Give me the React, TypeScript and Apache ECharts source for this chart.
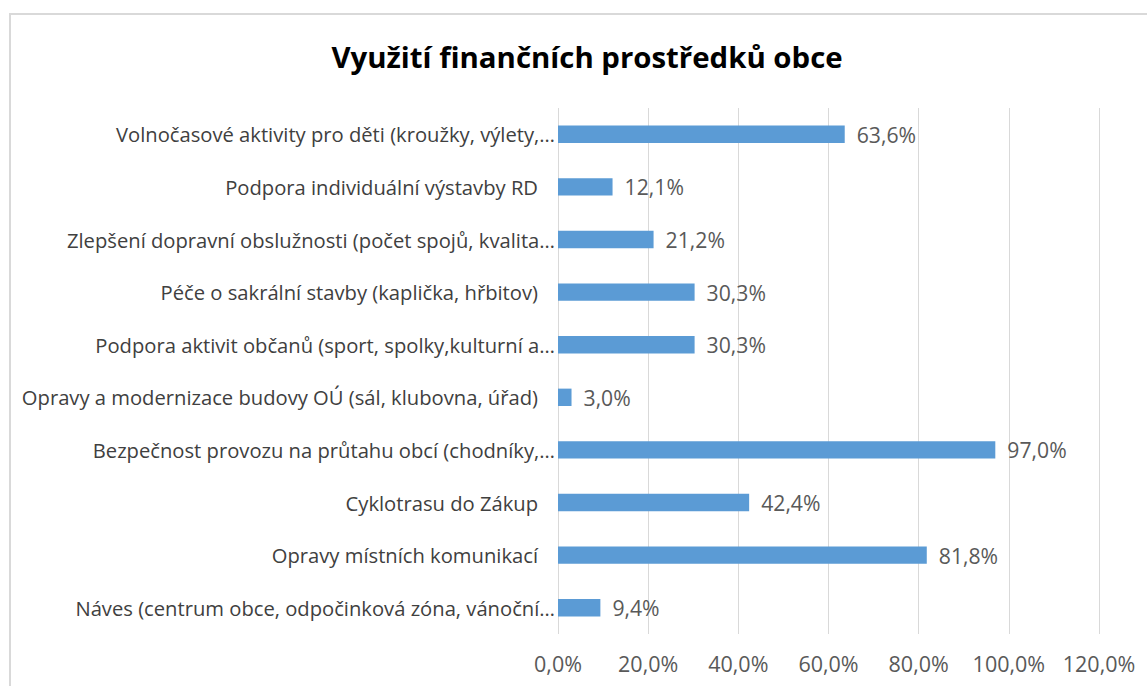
import React, { useEffect, useRef } from "react";
import * as echarts from "echarts";

const categories: string[] = [
  "Volnočasové aktivity pro děti (kroužky, výlety,…",
  "Podpora individuální výstavby RD",
  "Zlepšení dopravní obslužnosti (počet spojů, kvalita…",
  "Péče o sakrální stavby (kaplička, hřbitov)",
  "Podpora aktivit občanů (sport, spolky,kulturní a…",
  "Opravy a modernizace budovy OÚ (sál, klubovna, úřad)",
  "Bezpečnost provozu na průtahu obcí (chodníky,…",
  "Cyklotrasu do Zákup",
  "Opravy místních komunikací",
  "Náves (centrum obce, odpočinková zóna, vánoční…",
];

const values: number[] = [63.6, 12.1, 21.2, 30.3, 30.3, 3.0, 97.0, 42.4, 81.8, 9.4];

const xTicks = { min: 0, max: 120, interval: 20 };

const title = "Využití finančních prostředků obce";

const fmt = (v: number) => v.toFixed(1).replace(".", ",") + "%";

export default function App() {
  const ref = useRef<HTMLDivElement>(null);
  useEffect(() => {
    if (!ref.current) return;
    const chart = echarts.init(ref.current, null, { renderer: "svg" });
    const font = "'Open Sans', 'Noto Sans', sans-serif";
    chart.setOption({
      animation: false,
      backgroundColor: "#ffffff",
      graphic: [
        {
          type: "rect",
          shape: { x: 10, y: 14, width: 1300, height: 900 },
          style: { fill: "none", stroke: "#d9d9d9", lineWidth: 2 },
          silent: true,
        },
        {
          type: "text",
          x: 587,
          y: 57,
          style: {
            text: title,
            font: `bold 29.4px ${font}`,
            fill: "#000000",
            textAlign: "center",
            textVerticalAlign: "middle",
          },
        },
      ],
      grid: { left: 558, right: 48, top: 108, bottom: 52, containLabel: false },
      xAxis: {
        type: "value",
        min: xTicks.min,
        max: xTicks.max,
        interval: xTicks.interval,
        axisLine: { show: false },
        axisTick: { show: false },
        splitLine: { show: true, lineStyle: { color: "#d9d9d9", width: 1 } },
        axisLabel: {
          formatter: (v: number) => fmt(v),
          color: "#595959",
          fontFamily: font,
          fontSize: 21.5,
          margin: 18,
        },
      },
      yAxis: {
        type: "category",
        inverse: true,
        data: categories,
        axisLine: { show: false },
        axisTick: { show: false },
        axisLabel: {
          margin: 3,
          color: "#404040",
          fontFamily: font,
          fontSize: 20.2,
          formatter: (v: string) => (v.endsWith("…") ? `{t|${v}}` : `{n|${v}}`),
          rich: {
            t: { color: "#404040", fontFamily: font, fontSize: 20.2 },
            n: { color: "#404040", fontFamily: font, fontSize: 20.2, padding: [0, 17, 0, 0] },
          },
        },
      },
      series: [
        {
          type: "bar",
          data: values,
          barWidth: "33%",
          itemStyle: { color: "#5B9BD5" },
          label: {
            show: true,
            position: "right",
            distance: 12,
            color: "#595959",
            fontFamily: font,
            fontSize: 21.2,
            formatter: (p: any) => fmt(p.value),
          },
        },
      ],
    });
    return () => chart.dispose();
  }, []);
  return (
    <div
      ref={ref}
      style={{ position: "absolute", left: 0, top: 0, width: 1147, height: 686 }}
    />
  );
}
